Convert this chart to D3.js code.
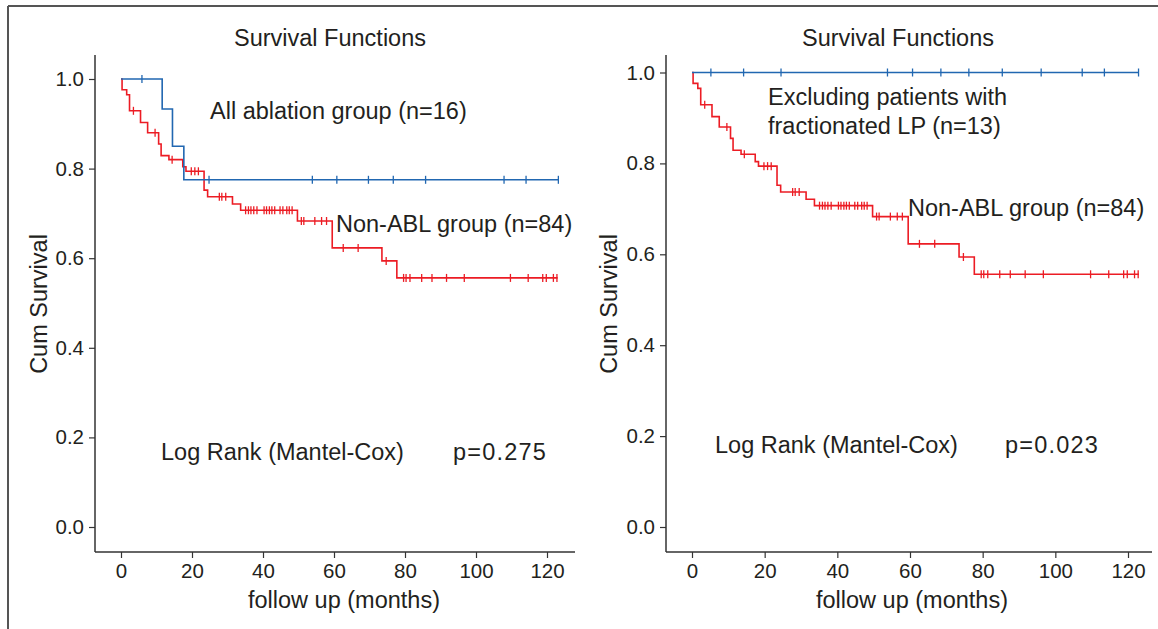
<!DOCTYPE html>
<html>
<head>
<meta charset="utf-8">
<script src="https://cdn.jsdelivr.net/npm/d3@7"></script>
<style>
  body { margin: 0; background: #fff; }
  svg text { font-family: "Liberation Sans", Arial, sans-serif; fill: #231f20; }
</style>
</head>
<body>
<svg id="chart" width="1158" height="629"></svg>
<script>
// Non-ABL group (n=84), same patients in both panels: [month, survival after event]
const redEvents = [
  [0.3, 0.976], [1.6, 0.965], [2.4, 0.929], [5.5, 0.903], [7.5, 0.880],
  [10.6, 0.855], [11.3, 0.829], [13.5, 0.820], [17.4, 0.804], [18.3, 0.794],
  [23.4, 0.752], [24.4, 0.737], [31.4, 0.721], [33.7, 0.707], [49.7, 0.683],
  [59.5, 0.623], [73.5, 0.594], [77.7, 0.556]
];
const redCensored = [
  3.5, 9.6, 14.4, 19.8, 20.8, 21.8, 27.7, 28.4, 29.5, 35.1, 35.9, 36.6, 37.4,
  38.3, 40.3, 41.0, 41.8, 42.5, 43.3, 44.8, 45.6, 46.7, 47.4, 48.2, 50.8, 51.5,
  54.6, 56.5, 57.9, 62.6, 66.8, 74.7, 79.6, 80.3, 81.4, 84.7, 87.6, 91.7, 96.7,
  109.7, 114.7, 118.8, 119.8, 121.8, 122.8
];
const redEnd = 123;

// All ablation group (n=16)
const ablEvents = [[11.6, 0.933], [14.5, 0.850], [17.7, 0.775]];
const ablCensored = [5.9, 24.8, 53.9, 60.8, 69.7, 76.7, 85.8, 107.9, 114.1, 123.2];
const ablEnd = 123.2;

// Excluding fractionated LP (n=13): no events
const exclEvents = [];
const exclCensored = [5.2, 14.2, 24.5, 53.8, 60.7, 68.5, 76.2, 85.4, 96.1, 107.4, 113.5, 122.9];
const exclEnd = 122.9;

const xTicks = [0, 20, 40, 60, 80, 100, 120];
const yTicks = [0, 0.2, 0.4, 0.6, 0.8, 1.0];

const BLUE = '#2167b1';
const RED = '#ec1c24';
const TEXT_SIZE = '23.5px';

const svg = d3.select('#chart');

// outer frame (left and top edges only)
svg.append('line').attr('x1', 8).attr('x2', 8).attr('y1', 6).attr('y2', 629)
  .attr('stroke', '#555').attr('stroke-width', 2);
svg.append('line').attr('x1', 8).attr('x2', 1158).attr('y1', 6).attr('y2', 6)
  .attr('stroke', '#555').attr('stroke-width', 2);

const panels = [
  {
    axisX: 95, xRange: [121, 547], yRange: [527, 79], axisTop: 55, axisBottom: 552, xEnd: 575,
    titleX: 330, xTitleX: 344, yTitleX: 47,
    blue: { events: ablEvents, censored: ablCensored, end: ablEnd },
    notes: [
      { x: 210, y: 119, text: 'All ablation group (n=16)' },
      { x: 336, y: 232, text: 'Non-ABL group (n=84)' },
      { x: 161, y: 460, text: 'Log Rank (Mantel-Cox)' },
      { x: 453, y: 460, text: 'p=0.275', spacing: 1.2 }
    ]
  },
  {
    axisX: 666, xRange: [692, 1128], yRange: [527, 72.5], axisTop: 55, axisBottom: 552, xEnd: 1152,
    titleX: 898, xTitleX: 912, yTitleX: 617,
    blue: { events: exclEvents, censored: exclCensored, end: exclEnd },
    notes: [
      { x: 768, y: 105, text: 'Excluding patients with' },
      { x: 768, y: 134, text: 'fractionated LP (n=13)' },
      { x: 908, y: 216, text: 'Non-ABL group (n=84)' },
      { x: 715, y: 453, text: 'Log Rank (Mantel-Cox)' },
      { x: 1005, y: 453, text: 'p=0.023', spacing: 1.2 }
    ]
  }
];

function survivalAt(events, t) {
  let s = 1;
  events.forEach(e => { if (e[0] <= t) s = e[1]; });
  return s;
}

function drawCurve(g, x, y, events, censored, end, color) {
  const pts = [[0, 1]].concat(events);
  pts.push([end, survivalAt(events, end)]);
  const line = d3.line()
    .x(d => x(d[0]))
    .y(d => y(d[1]))
    .curve(d3.curveStepAfter);
  g.append('path')
    .attr('d', line(pts))
    .attr('fill', 'none')
    .attr('stroke', color)
    .attr('stroke-width', 1.6);
  g.selectAll(null)
    .data(censored)
    .join('line')
    .attr('x1', d => x(d)).attr('x2', d => x(d))
    .attr('y1', d => y(survivalAt(events, d)) - 4)
    .attr('y2', d => y(survivalAt(events, d)) + 4)
    .attr('stroke', color)
    .attr('stroke-width', 1.3);
}

panels.forEach(p => {
  const g = svg.append('g');
  const x = d3.scaleLinear().domain([0, 120]).range(p.xRange);
  const y = d3.scaleLinear().domain([0, 1]).range(p.yRange);

  // axis lines
  g.append('line').attr('x1', p.axisX).attr('x2', p.axisX)
    .attr('y1', p.axisTop).attr('y2', p.axisBottom)
    .attr('stroke', '#333').attr('stroke-width', 1.5);
  g.append('line').attr('x1', p.axisX).attr('x2', p.xEnd)
    .attr('y1', p.axisBottom).attr('y2', p.axisBottom)
    .attr('stroke', '#333').attr('stroke-width', 1.5);

  const xAxis = d3.axisBottom(x).tickValues(xTicks).tickSize(6).tickPadding(5);
  const yAxis = d3.axisLeft(y).tickValues(yTicks).tickFormat(d3.format('.1f')).tickSize(6).tickPadding(5);

  const xg = g.append('g').attr('transform', `translate(0,${p.axisBottom})`).call(xAxis);
  const yg = g.append('g').attr('transform', `translate(${p.axisX},0)`).call(yAxis);
  [xg, yg].forEach(a => {
    a.select('.domain').remove();
    a.selectAll('.tick line').attr('stroke', '#333').attr('stroke-width', 1.2);
    a.selectAll('.tick text').attr('fill', '#231f20').style('font-size', '20.5px')
      .style('font-family', '"Liberation Sans", Arial, sans-serif');
  });

  // titles
  g.append('text').attr('x', p.titleX).attr('y', 46)
    .attr('text-anchor', 'middle').style('font-size', TEXT_SIZE).text('Survival Functions');
  g.append('text').attr('x', p.xTitleX).attr('y', 608)
    .attr('text-anchor', 'middle').style('font-size', TEXT_SIZE).text('follow up (months)');
  g.append('text')
    .attr('transform', `translate(${p.yTitleX},${304}) rotate(-90)`)
    .attr('text-anchor', 'middle').style('font-size', TEXT_SIZE).text('Cum Survival');

  // curves
  drawCurve(g, x, y, redEvents, redCensored, redEnd, RED);
  drawCurve(g, x, y, p.blue.events, p.blue.censored, p.blue.end, BLUE);

  // annotations
  g.selectAll(null)
    .data(p.notes)
    .join('text')
    .attr('x', d => d.x).attr('y', d => d.y)
    .style('font-size', TEXT_SIZE)
    .style('letter-spacing', d => d.spacing ? d.spacing + 'px' : null)
    .text(d => d.text);
});
</script>
</body>
</html>
